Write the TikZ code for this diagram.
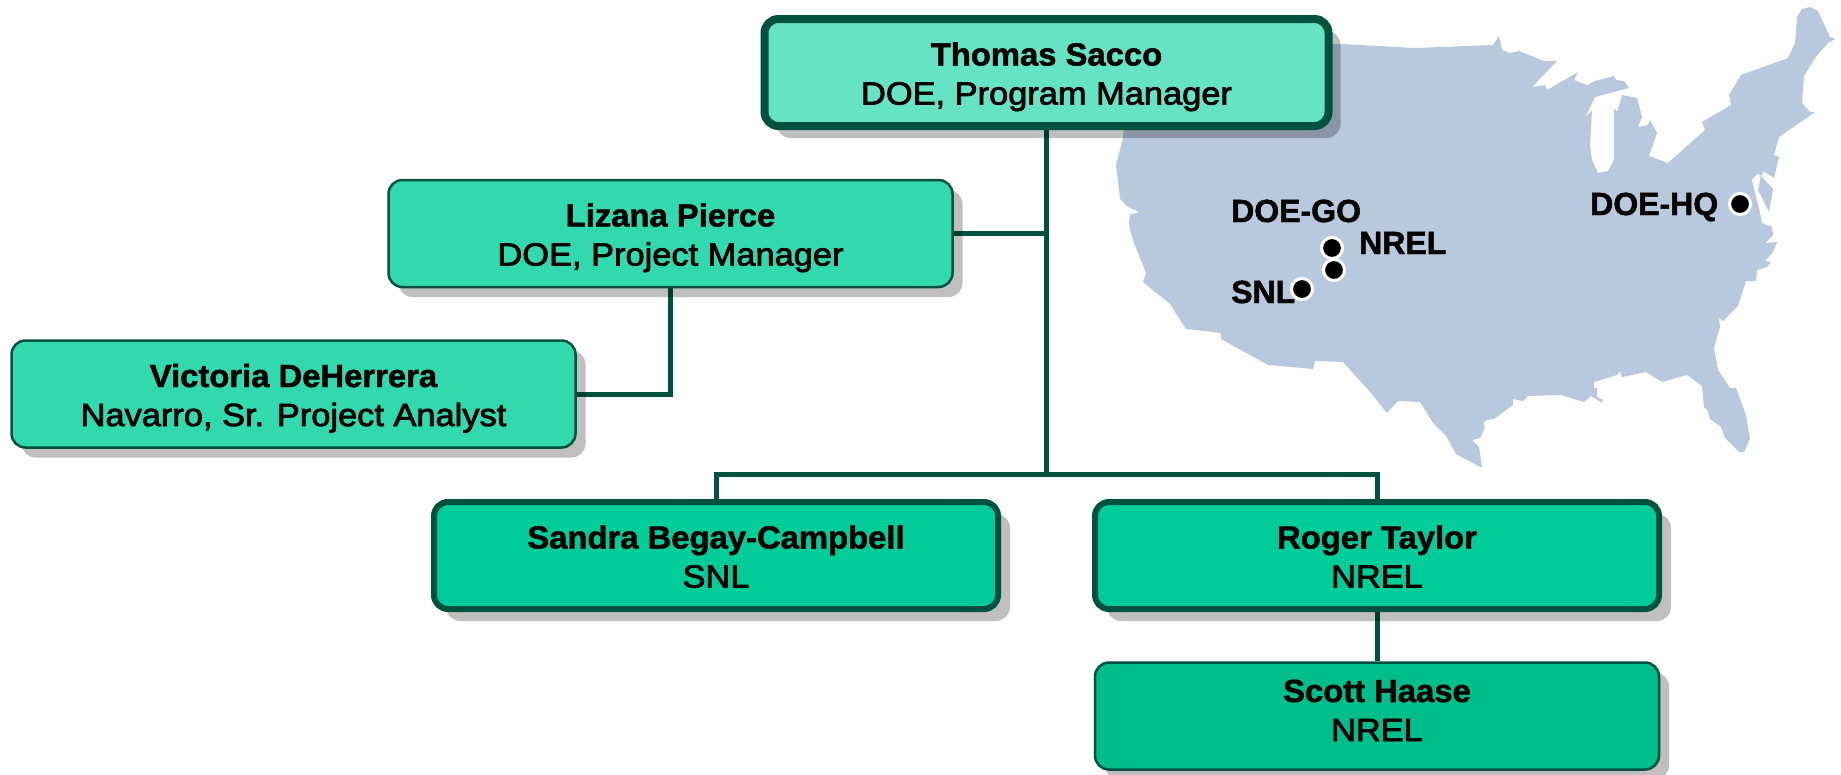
\documentclass[tikz,border=0pt]{standalone}
\usepackage{fontspec}
\usetikzlibrary{shadows,backgrounds}
\newfontfamily\namefont[FakeStretch=1.025,FakeBold=1.5]{Liberation Sans Bold}
\newfontfamily\rolefont[FakeStretch=1.075,FakeBold=2.5]{Liberation Sans}
\newfontfamily\sitefont[FakeBold=1.5]{Liberation Sans Bold}
\newcommand{\person}[3][8pt]{{\namefont\rule{0pt}{33pt}#2}\\{\rolefont\rule[-#1]{0pt}{#1}#3}}
\definecolor{wirecol}{HTML}{00523F}
\definecolor{mapcol}{HTML}{B9C9DD}
\definecolor{topfill}{HTML}{66E3C4}
\definecolor{midfill}{HTML}{33D9AE}
\definecolor{labfill}{HTML}{00CC99}
\definecolor{subfill}{HTML}{00BD8C}
\tikzset{
  orgbox/.style={draw=wirecol,rounded corners=14pt,align=center,inner sep=0pt,
    font=\fontsize{32}{39}\selectfont,text=black,
    minimum width=564pt,minimum height=107pt},
  heavybox/.style={orgbox,line width=8pt,
    drop shadow={shadow xshift=12pt,shadow yshift=-12pt,fill=black,opacity=.25}},
  labbox/.style={orgbox,line width=6pt,fill=labfill,
    drop shadow={shadow xshift=12pt,shadow yshift=-12pt,fill=black,opacity=.25}},
  thinbox/.style={orgbox,line width=2.5pt,
    drop shadow={shadow xshift=10pt,shadow yshift=-10pt,fill=black,opacity=.25}},
  wire/.style={draw=wirecol,line width=5pt},
  sitedot/.style={circle,fill=black,draw=white,line width=3pt,inner sep=0pt,minimum size=21pt},
  sitetext/.style={anchor=base west,inner sep=0pt,font=\sitefont\fontsize{32}{38}\selectfont}
}
\begin{document}
\begin{tikzpicture}[x=1pt,y=-1pt]
\useasboundingbox (0,0) rectangle (1841,774);

% map
\fill[mapcol] (1130,40) -- (1341,44) -- (1415,48) -- (1493,45) -- (1499,36) -- (1502,50) -- (1510,53) -- (1519,51)
  -- (1544,61) -- (1557,61) -- (1532,87) -- (1545,85) -- (1547,90) -- (1578,72) -- (1574,80) -- (1587,85)
  -- (1595,81) -- (1614,76) -- (1616,80) -- (1624,81) -- (1629,88) -- (1595,97) -- (1585,118) -- (1592,110)
  -- (1590,145) -- (1592,160) -- (1598,173) -- (1608,171) -- (1614,160) -- (1614,108) -- (1617,112) -- (1622,95)
  -- (1637,98) -- (1642,117) -- (1638,127) -- (1648,125) -- (1650,120) -- (1657,133) -- (1649,156) -- (1668,163)
  -- (1705,130) -- (1702,122) -- (1731,105) -- (1729,95) -- (1741,75) -- (1788,58) -- (1795,43) -- (1797,17)
  -- (1802,9) -- (1810,7) -- (1818,11) -- (1830,37) -- (1835,39) -- (1828,43) -- (1815,58) -- (1804,76)
  -- (1802,103) -- (1810,112) -- (1815,112) -- (1779,137) -- (1774,155) -- (1779,157) -- (1774,178) -- (1763,171)
  -- (1762,177) -- (1773,189) -- (1769,212) -- (1763,200) -- (1758,190) -- (1761,175) -- (1757,174) -- (1752,180)
  -- (1756,197) -- (1760,213) -- (1762,223) -- (1772,227)
  -- (1773,235) -- (1765,243) -- (1777,242) -- (1773,252) -- (1765,261) -- (1771,262) -- (1767,267) -- (1757,270)
  -- (1756,281) -- (1746,281) -- (1738,306) -- (1723,321) -- (1719,318) -- (1720,327) -- (1714,348) -- (1718,370)
  -- (1730,388) -- (1736,388) -- (1746,415) -- (1750,439) -- (1744,452) -- (1739,452) -- (1725,438) -- (1721,427)
  -- (1710,419) -- (1707,409) -- (1704,408) -- (1702,386) -- (1687,375) -- (1662,382) -- (1646,372) -- (1622,377)
  -- (1620,371) -- (1617,375) -- (1594,382) -- (1594,388) -- (1597,388) -- (1597,397) -- (1603,400) -- (1602,403)
  -- (1591,396) -- (1584,402) -- (1561,395) -- (1528,396) -- (1523,401) -- (1513,399) -- (1513,405) -- (1494,419)
  -- (1487,420) -- (1483,423) -- (1485,427) -- (1480,438) -- (1472,440) -- (1479,447) -- (1482,467) -- (1480,467)
  -- (1456,454) -- (1446,436) -- (1433,423) -- (1420,402) -- (1398,401) -- (1387,413) -- (1371,393) -- (1343,362)
  -- (1315,361) -- (1313,369) -- (1268,365) -- (1221,339) -- (1221,333) -- (1186,329) -- (1170,304) -- (1143,282)
  -- (1146,273) -- (1134,243) -- (1130,230) -- (1129,223) -- (1130,214) -- (1139,213) -- (1137,211) -- (1128,207)
  -- (1120,199) -- (1116,165) -- (1123,138) -- cycle;

\node[sitetext] (goText) at (1231,222) {DOE-GO};
\node[sitetext] (nrelText) at (1359,254) {NREL};
\node[sitetext] (snlText) at (1231,303) {SNL};
\node[sitetext] (hqText) at (1590,215) {DOE-HQ};
\node[sitedot] (goDot) at (1332,248) {};
\node[sitedot] (nrelDot) at (1334,270) {};
\node[sitedot] (snlDot) at (1302,289) {};
\node[sitedot] (hqDot) at (1740,204) {};

% boxes
\node[heavybox,fill=topfill] (sacco) at (1046.5,72.5) {\person{Thomas Sacco}{DOE, Program Manager}};
\node[thinbox,fill=midfill] (pierce) at (670.5,233.5) {\person{Lizana Pierce}{DOE, Project Manager}};
\node[thinbox,fill=midfill] (deherrera) at (293.5,394) {\person{Victoria DeHerrera}{Navarro, Sr. Project Analyst}};
\node[labbox] (begay) at (716,555.5) {\person{Sandra Begay-Campbell}{SNL}};
\node[labbox] (taylor) at (1377,555.5) {\person{Roger Taylor}{NREL}};
\node[thinbox,fill=subfill] (haase) at (1377,716) {\person[22pt]{Scott Haase}{NREL}};

% connectors, under the shadows
\coordinate (busjoin) at (1046.5,474);
\begin{scope}[on background layer]
\draw[wire] (sacco.south) -- (busjoin);
\draw[wire] (pierce.east) -- (pierce.east -| sacco.south);
\draw[wire] (pierce.south) |- (deherrera.east);
\draw[wire] (begay.north) |- (busjoin);
\draw[wire] (taylor.north) |- (busjoin);
\draw[wire] (taylor.south) -- (haase.north);
\end{scope}
\end{tikzpicture}
\end{document}
